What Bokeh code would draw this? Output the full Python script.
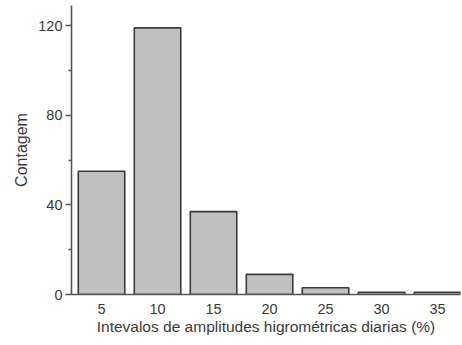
from bokeh.plotting import figure
from bokeh.models import Range1d, FixedTicker, ColumnDataSource
from bokeh.embed import file_html
from bokeh.resources import INLINE

categories = [5, 10, 15, 20, 25, 30, 35]
counts = [55, 119, 37, 9, 3, 1, 1]
y_ticks = [0, 40, 80, 120]
y_minor = [20, 60, 100]

src = ColumnDataSource(dict(x=categories, top=counts))

p = figure(width=462, height=345, output_backend="svg", toolbar_location=None,
           x_range=Range1d(2.32, 37.05), y_range=Range1d(0, 129),
           min_border_left=71, min_border_right=2, min_border_top=5, min_border_bottom=51)
p.outline_line_color = None
p.xgrid.visible = False
p.ygrid.visible = False
p.background_fill_color = "white"
p.border_fill_color = "white"

p.vbar(x="x", top="top", bottom=0, width=4.15, source=src,
       fill_color="#c0c0c0", line_color="#3a3a3a", line_width=1.6)

font = "Liberation Sans"
for ax in (p.xaxis[0], p.yaxis[0]):
    ax.axis_line_color = "#555555"
    ax.axis_line_width = 1.6
    ax.major_tick_line_color = "#555555"
    ax.minor_tick_line_color = "#555555"
    ax.major_tick_line_width = 1.3
    ax.minor_tick_line_width = 1.3
    ax.major_label_text_font = font
    ax.major_label_text_font_size = "14.5px"
    ax.major_label_text_color = "#3a3a3a"
    ax.axis_label_text_font = font
    ax.axis_label_text_font_style = "normal"
    ax.axis_label_text_color = "#3a3a3a"

p.xaxis.ticker = FixedTicker(ticks=categories)
p.xaxis.major_tick_out = 0
p.xaxis.major_tick_in = 0
p.xaxis.minor_tick_out = 0
p.xaxis.minor_tick_in = 0
p.xaxis.major_label_standoff = 9
p.xaxis.axis_label = "Intevalos de amplitudes higrométricas diarias (%)"
p.xaxis.axis_label_text_font_size = "15.5px"
p.xaxis.axis_label_standoff = 1

p.yaxis.ticker = FixedTicker(ticks=y_ticks, minor_ticks=y_minor)
p.yaxis.major_tick_out = 6
p.yaxis.major_tick_in = 0
p.yaxis.minor_tick_out = 3
p.yaxis.minor_tick_in = 0
p.yaxis.major_label_standoff = 3
p.yaxis.axis_label = "Contagem"
p.yaxis.axis_label_text_font_size = "16px"
p.yaxis.axis_label_standoff = 5

open("out.html", "w").write(file_html(p, INLINE))
